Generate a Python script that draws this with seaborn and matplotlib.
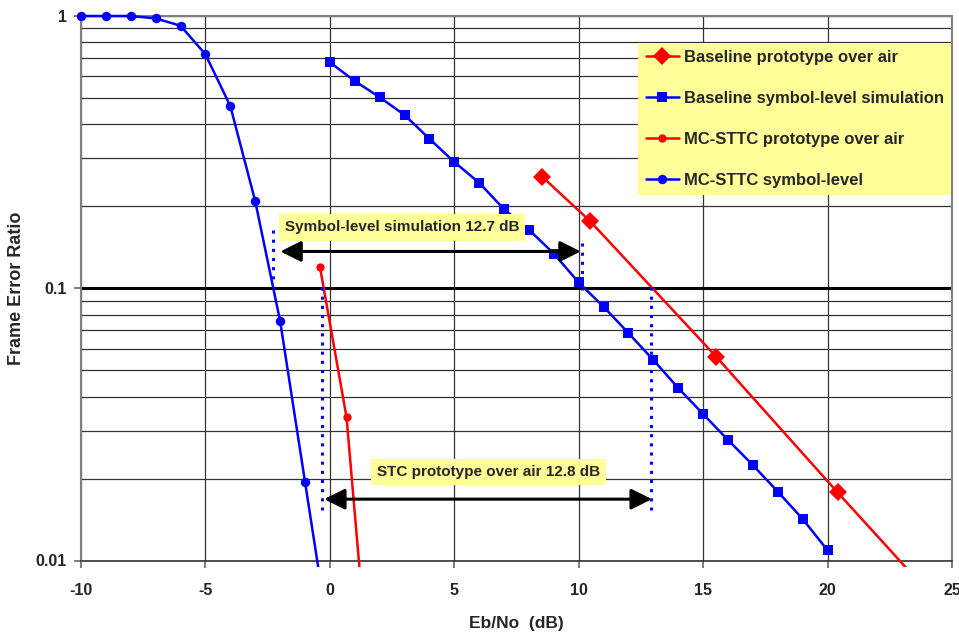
import numpy as np
import pandas as pd
import matplotlib
matplotlib.use("Agg")
import matplotlib.pyplot as plt
from matplotlib.ticker import FixedLocator, NullFormatter, LogLocator
from matplotlib.transforms import Bbox, TransformedBbox
import seaborn as sns

# ---------------- data ----------------
base_air_x = [8.53, 10.44, 15.52, 20.40, 25.40]
base_air_y = [0.257, 0.177, 0.0561, 0.0178, 0.0056]

base_sim_x = [0, 1, 2, 3, 4, 5, 6, 7, 8, 9, 10, 11, 12, 13, 14, 15, 16, 17, 18, 19, 20]
base_sim_y = [0.676, 0.577, 0.503, 0.433, 0.354, 0.291, 0.244, 0.195, 0.164, 0.134,
              0.105, 0.0855, 0.0684, 0.0545, 0.043, 0.0345, 0.0277, 0.0224, 0.0179,
              0.0142, 0.0109]

mc_air_x = [-0.40, 0.67, 1.67]
mc_air_y = [0.120, 0.0336, 0.0029]

mc_sim_x = [-10, -9, -8, -7, -6, -5, -4, -3, -2, -1, 0]
mc_sim_y = [1.0, 1.0, 1.0, 0.98, 0.921, 0.723, 0.467, 0.209, 0.0759, 0.0195, 0.0050]

series_labels = ["Baseline prototype over air",
                 "Baseline symbol-level simulation",
                 "MC-STTC prototype over air",
                 "MC-STTC symbol-level"]

x_ticks = [-10, -5, 0, 5, 10, 15, 20, 25]
x_tick_labels = ["-10", "-5", "0", "5", "10", "15", "20", "25"]
y_ticks = [0.01, 0.1, 1]
y_tick_labels = ["0.01", "0.1", "1"]

# annotations
ann1_text = "Symbol-level simulation 12.7 dB"
ann1_pos = (2.90, 0.1672)
arrow1_x = (-1.99, 10.08)
arrow1_y = 0.1365
dots1_x = [-2.30, 10.12]
dots1_y = [(0.164, 0.107), (0.147, 0.0987)]

ann2_text = "STC prototype over air 12.8 dB"
ann2_pos = (6.385, 0.0212)
arrow2_x = (-0.23, 12.94)
arrow2_y = 0.0168
dots2_x = [-0.32, 12.92]
dots2_y = [(0.101, 0.0153), (0.101, 0.0153)]

# ---------------- style ----------------
sns.set_theme(style="white")
plt.rcParams["font.family"] = ["Liberation Sans", "DejaVu Sans"]
plt.rcParams["font.weight"] = "bold"

RED = "#FF0000"
BLUE = "#0000FF"
YELLOW = "#FFFF99"

fig = plt.figure(figsize=(9.59, 6.39), dpi=100)
ax = fig.add_axes([81 / 959, 1 - 560.5 / 639, (952 - 81) / 959, (560.5 - 16) / 639])
ax.set_yscale("log")
ax.set_xlim(-10, 25)
ax.set_ylim(0.01, 1)

# grid
ax.yaxis.set_minor_locator(LogLocator(base=10, subs=np.arange(2, 10)))
ax.yaxis.set_minor_formatter(NullFormatter())
ax.grid(True, which="minor", axis="y", color="#333333", lw=0.9)
ax.grid(True, which="major", axis="y", color="#111111", lw=0.9)
ax.xaxis.set_major_locator(FixedLocator(x_ticks))
ax.grid(True, which="major", axis="x", color="#333333", lw=0.9)
ax.axhline(0.1, color="black", lw=2.2, zorder=1.5)
ax.set_axisbelow(True)

# series
sns.lineplot(x=base_air_x, y=base_air_y, ax=ax, color=RED, lw=1.8, marker="D",
             markersize=9, markeredgewidth=0, label=series_labels[0], zorder=3)
sns.lineplot(x=base_sim_x, y=base_sim_y, ax=ax, color=BLUE, lw=1.8, marker="s",
             markersize=7.5, markeredgewidth=0, label=series_labels[1], zorder=3)
sns.lineplot(x=mc_air_x, y=mc_air_y, ax=ax, color=RED, lw=1.8, marker="o",
             markersize=6, markeredgewidth=0, label=series_labels[2], zorder=3)
sns.lineplot(x=mc_sim_x, y=mc_sim_y, ax=ax, color=BLUE, lw=1.8, marker="o",
             markersize=6.8, markeredgewidth=0, label=series_labels[3], zorder=3)

# let lines overhang the plot edge slightly (as in the original) and keep
# markers at the top edge whole
clip = TransformedBbox(Bbox([[-0.02, -0.012], [1.0, 1.03]]), ax.transAxes)
for ln in ax.get_lines()[-4:]:
    ln.set_clip_box(clip)

# dotted markers
for xv, (y0, y1) in zip(dots1_x + dots2_x, dots1_y + dots2_y):
    ax.plot([xv, xv], [y0, y1], color=BLUE, lw=2.2, ls=(0, (1, 2)), zorder=4)

# arrows
for (xa, xb), ya in [(arrow1_x, arrow1_y), (arrow2_x, arrow2_y)]:
    ax.annotate("", xy=(xa, ya), xytext=(xb, ya),
                arrowprops=dict(arrowstyle="<|-|>,head_length=0.7,head_width=0.35",
                                color="black", lw=2.2, shrinkA=0, shrinkB=0,
                                mutation_scale=18), zorder=5)

# annotation boxes
for txt, (tx, ty) in [(ann1_text, ann1_pos), (ann2_text, ann2_pos)]:
    ax.text(tx, ty, txt, ha="center", va="center", fontsize=11, fontweight="bold",
            bbox=dict(boxstyle="square,pad=0.4", fc=YELLOW, ec="none"), zorder=6)

# ticks
ax.set_xticks(x_ticks)
ax.set_xticklabels(x_tick_labels, fontsize=11.5, fontweight="bold")
ax.yaxis.set_major_locator(FixedLocator(y_ticks))
ax.set_yticklabels(y_tick_labels, fontsize=11.5, fontweight="bold")
ax.tick_params(axis="x", which="major", direction="out", length=5, width=1.2,
               color="#666666", pad=11, bottom=True)
ax.tick_params(axis="y", which="major", direction="out", length=5, width=1.2,
               color="#666666", pad=5, left=True)
ax.tick_params(axis="y", which="minor", length=0, left=False)

# spines
for s in ["top", "right", "left"]:
    ax.spines[s].set_color("#808080")
    ax.spines[s].set_linewidth(1.5)
ax.spines["bottom"].set_color("#333333")
ax.spines["bottom"].set_linewidth(1.2)

ax.set_xlabel("Eb/No  (dB)", fontsize=12.5, fontweight="bold", labelpad=13)
ax.set_ylabel("Frame Error Ratio", fontsize=13, fontweight="bold", labelpad=8)

# legend
leg = ax.legend(loc="upper left", bbox_to_anchor=(638 / 959, 1 - 42.7 / 639),
                bbox_transform=fig.transFigure, frameon=True, fancybox=False,
                facecolor=YELLOW, edgecolor="none", framealpha=1,
                prop=dict(size=12, weight="bold"), labelspacing=1.55,
                handlelength=2.0, handletextpad=0.3, borderpad=0.45,
                borderaxespad=0)
leg.set_zorder(10)

fig.savefig("out.png", dpi=100, facecolor="white")
